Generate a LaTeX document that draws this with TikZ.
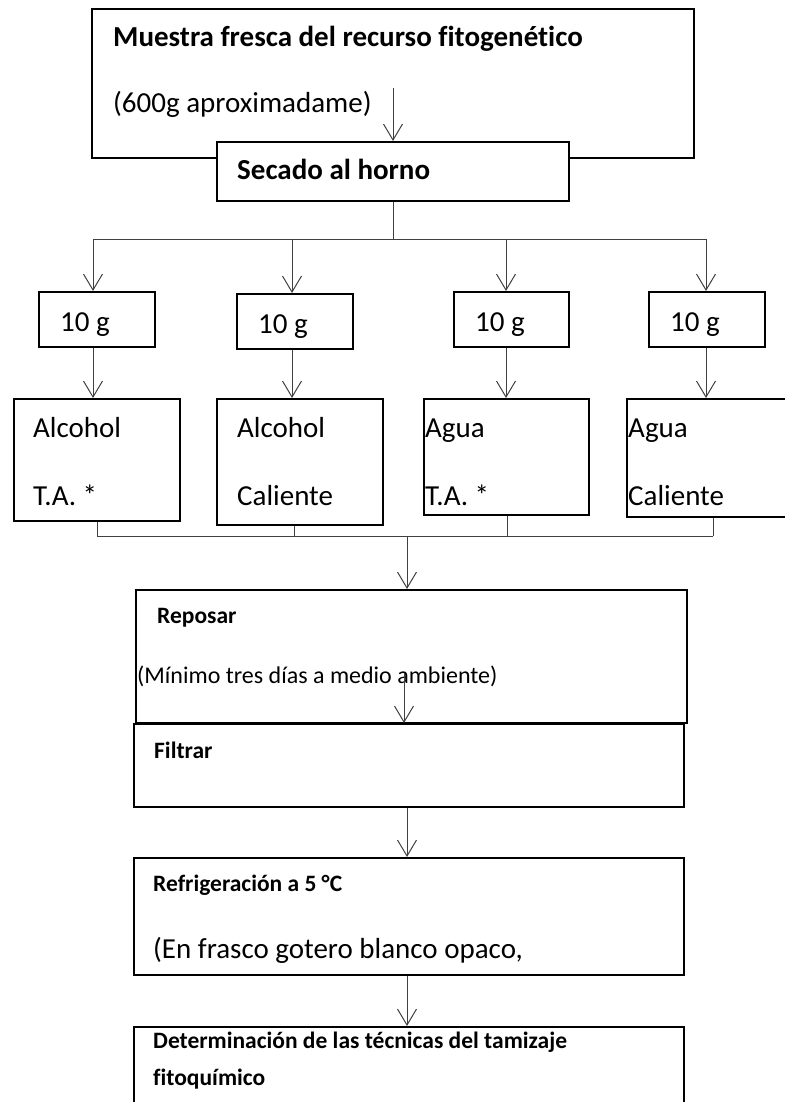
\documentclass[tikz,border=0pt]{standalone}
\usepackage{fontspec}
\setmainfont{Carlito}[Ligatures=NoCommon]
\usetikzlibrary{arrows.meta}

\begin{document}
\begin{tikzpicture}[x=1pt, y=-1pt,
                caja/.style={draw, line width=2pt, fill=white, inner sep=0pt, anchor=north west},
                texto/.style={anchor=base west, inner sep=0pt, font=\fontsize{29}{35}\selectfont},
                textob/.style={texto, font=\fontsize{29}{35}\selectfont\bfseries},
                chico/.style={anchor=base west, inner sep=0pt, font=\fontsize{24}{29}\selectfont},
                chicob/.style={chico, font=\fontsize{23.5}{28}\selectfont\bfseries},
                linea/.style={draw=black!75, line width=1pt},
                flecha/.style={linea, -{Straight Barb[length=16pt, width=19pt]}}
              ]
              \useasboundingbox (0,0) rectangle (784,1102);
              % muestra y secado
              \node [caja, minimum width=602, minimum height=149] (muestra) at (91,8) {};
              \node [textob] (muestraT) at (113,47) {Muestra fresca del recurso fitogenético};
              \node [texto] (muestraC) at (113,113) {(600g aproximadame)};
              \node [caja, minimum width=352, minimum height=59] (secado) at (216,141) {};
              \node [textob] (secadoT) at (237,180) {Secado al horno};
              % porciones de 10 g
              \node [caja, minimum width=116, minimum height=55] (g1) at (38,291) {};
              \node [caja, minimum width=116, minimum height=55] (g2) at (236,293) {};
              \node [caja, minimum width=115, minimum height=55] (g3) at (453,291) {};
              \node [caja, minimum width=116, minimum height=55] (g4) at (648,291) {};
              \node [texto] (g1T) at (60,331) {10 g};
              \node [texto] (g2T) at (258,333) {10 g};
              \node [texto] (g3T) at (475,331) {10 g};
              \node [texto] (g4T) at (670,331) {10 g};
              % extracciones
              \node [caja, minimum width=166, minimum height=122] (e1) at (13,398) {};
              \node [caja, minimum width=166, minimum height=126] (e2) at (216,398) {};
              \node [caja, minimum width=165, minimum height=116] (e3) at (423,398) {};
              \node [caja, minimum width=180, minimum height=118] (e4) at (626,398) {};
              \node [texto] (e1a) at (33,437) {Alcohol};
              \node [texto] (e1b) at (33,505) {T.A. *};
              \node [texto] (e2a) at (237,437) {Alcohol};
              \node [texto] (e2b) at (237,505) {Caliente};
              \node [texto] (e3a) at (425,437) {Agua};
              \node [texto] (e3b) at (425,505) {T.A. *};
              \node [texto] (e4a) at (628,437) {Agua};
              \node [texto] (e4b) at (628,505) {Caliente};
              % reposo, filtrado, refrigeracion y tamizaje
              \node [caja, minimum width=551, minimum height=133] (reposar) at (135,589) {};
              \node [chicob] (reposarT) at (157,623) {Reposar};
              \node [chico] (reposarC) at (137,683) {(Mínimo tres días a medio ambiente)};
              \node [caja, minimum width=550, minimum height=83] (filtrar) at (133,723) {};
              \node [chicob] (filtrarT) at (154,758) {Filtrar};
              \node [caja, minimum width=550, minimum height=117] (refrig) at (133,857) {};
              \node [chicob] (refrigT) at (153,891) {Refrigeración a 5 °C};
              \node [texto] (refrigC) at (153,958) {(En frasco gotero blanco opaco,};
              \node [caja, minimum width=550, minimum height=100] (tamizaje) at (133,1026) {};
              \node [chicob] (tamizajeT) at (153,1048) {Determinación de las técnicas del tamizaje};
              \node [chicob] (tamizajeC) at (153,1085) {fitoquímico};

              \coordinate (m0) at (393,88);
              \coordinate (s1) at (93,239);
              \coordinate (s2) at (292,239);
              \coordinate (s3) at (506,239);
              \coordinate (s4) at (706,239);
              \coordinate (c1) at (97,536);
              \coordinate (c2) at (294,536);
              \coordinate (c3) at (507,536);
              \coordinate (c4) at (713,536);
              \coordinate (col) at (407,536);
              \coordinate (rep0) at (404,673);

              \draw [flecha] (m0) -- (m0 |- secado.north);
              \draw [linea] (secado.south) -- (secado.south |- s1);
              \draw [linea] (s1) -- (s4);
              \foreach \i in {1,...,4} {
                \draw [flecha] (s\i) -- (s\i |- g\i.north);
                \draw [flecha] (s\i |- g\i.south) -- (s\i |- e\i.north);
                \draw [linea] (c\i |- e\i.south) -- (c\i);
              }
              \draw [linea] (c1) -- (c4);
              \draw [flecha] (col) -- (col |- reposar.north);
              \draw [flecha] (rep0) -- (rep0 |- filtrar.north);
              \draw [flecha] (col |- filtrar.south) -- (col |- refrig.north);
              \draw [flecha] (col |- refrig.south) -- (col |- tamizaje.north);
            \end{tikzpicture}
\end{document}
